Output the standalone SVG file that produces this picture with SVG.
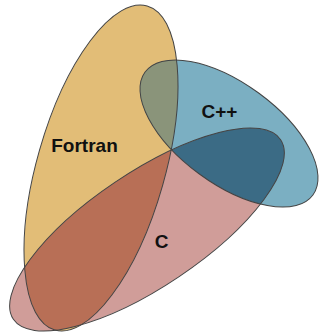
<svg xmlns="http://www.w3.org/2000/svg" width="320" height="333" viewBox="0 0 320 333">
<style>
.lbl{font-family:"Liberation Sans",Arial,sans-serif;font-weight:bold;font-size:19px;fill:#111;text-anchor:middle}
.edge{fill:none;stroke:#444;stroke-width:1}
</style>
<defs>
<ellipse id="eF" cx="101" cy="168" rx="64" ry="168.5" transform="rotate(15.9 101 168)"/>
<ellipse id="eP" cx="229" cy="133.5" rx="104" ry="50.2" transform="rotate(36.2 229 133.5)"/>
<ellipse id="eC" cx="147" cy="229.5" rx="161" ry="57" transform="rotate(-33.9 147 229.5)"/>
<clipPath id="cF"><use href="#eF"/></clipPath>
<clipPath id="cP"><use href="#eP"/></clipPath>
</defs>
<g id="fortran"><use href="#eF" fill="#e2bd77"/></g>
<g id="cpp"><use href="#eP" fill="#7bafc2"/></g>
<g id="c"><use href="#eC" fill="#d09d99"/></g>
<g id="overlaps">
<use href="#eP" fill="#8a947a" clip-path="url(#cF)"/>
<use href="#eC" fill="#b86f56" clip-path="url(#cF)"/>
<use href="#eC" fill="#3b6b85" clip-path="url(#cP)"/>
</g>
<g id="outlines">
<use href="#eF" class="edge"/>
<use href="#eP" class="edge"/>
<use href="#eC" class="edge"/>
</g>
<g id="labels">
<text class="lbl" x="84.5" y="152">Fortran</text>
<text class="lbl" x="219.5" y="118">C++</text>
<text class="lbl" x="161.7" y="248">C</text>
</g>
</svg>
